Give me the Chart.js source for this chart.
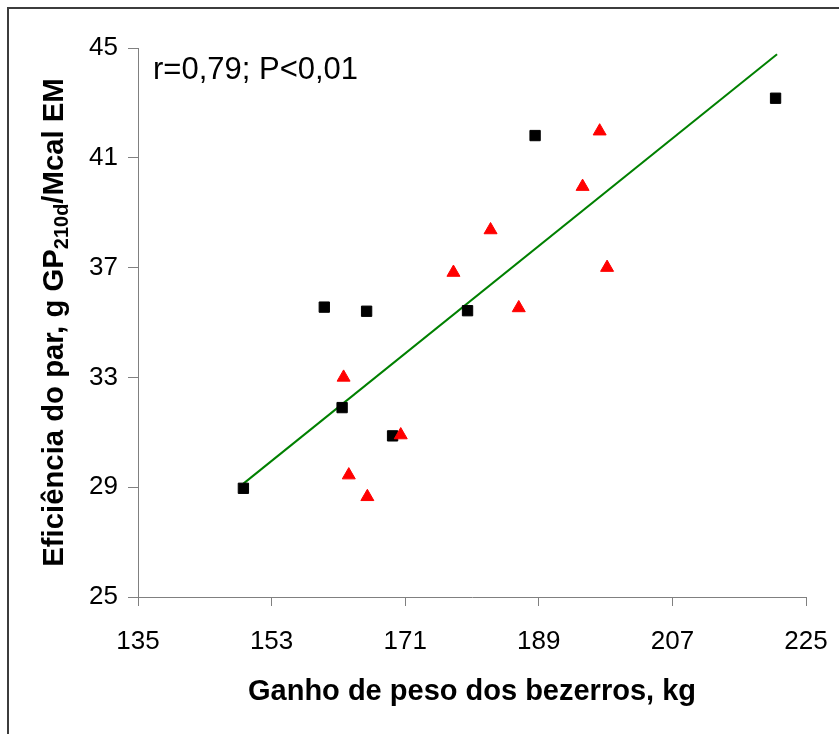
<!DOCTYPE html>
<html>
<head>
<meta charset="utf-8">
<script src="https://cdn.jsdelivr.net/npm/chart.js@4.4.1/dist/chart.umd.min.js"></script>
<style>
  html, body { margin: 0; padding: 0; background: #fff; }
  #wrap { width: 839px; height: 734px; position: relative; }
</style>
</head>
<body>
<div id="wrap"><canvas id="myChart" width="839" height="734"></canvas></div>
<script>
// values
const squaresX = [149.2, 160.1, 162.5, 165.8, 169.3, 179.4, 188.5, 220.9];
const squaresY = [28.96, 35.56, 31.90, 35.41, 30.87, 35.43, 41.81, 43.17];
const trianglesX = [162.7, 163.4, 165.9, 170.4, 177.5, 182.5, 186.3, 194.9, 197.2, 198.2];
const trianglesY = [33.0, 29.44, 28.65, 30.9, 36.82, 38.37, 35.53, 39.95, 41.97, 37.0];
const trendX = [149.2, 221.1];
const trendY = [29.13, 44.77];
const xTicks = [135, 153, 171, 189, 207, 225];
const yTicks = [25, 29, 33, 37, 41, 45];
const annotation = 'r=0,79; P<0,01';

const FONT = '"Liberation Sans", Arial, sans-serif';

function toPoints(xs, ys) {
    return xs.map((x, i) => ({ x: x, y: ys[i] }));
}

// frame, annotation text and y-axis title (needs a subscript)
const decorations = {
    id: 'decorations',
    afterDraw(chart) {
        const ctx = chart.ctx;
        const area = chart.chartArea;
        ctx.save();
        ctx.strokeStyle = '#3c3c3c';
        ctx.lineWidth = 2;
        ctx.beginPath();
        ctx.moveTo(8, chart.height + 2);
        ctx.lineTo(8, 8);
        ctx.lineTo(chart.width + 2, 8);
        ctx.stroke();

        ctx.fillStyle = '#000';
        ctx.font = '31px ' + FONT;
        ctx.textBaseline = 'alphabetic';
        ctx.textAlign = 'left';
        ctx.fillText(annotation, area.left + 15, 79);

        // rotated title
        const parts = [
            { t: 'Eficiência do par, g GP', f: 'bold 29.3px ' + FONT, dy: 0 },
            { t: '210d', f: 'bold 20px ' + FONT, dy: 5 },
            { t: '/Mcal EM', f: 'bold 29.3px ' + FONT, dy: 0 }
        ];
        let total = 0;
        parts.forEach(p => { ctx.font = p.f; p.w = ctx.measureText(p.t).width; total += p.w; });
        ctx.translate(63, (area.top + area.bottom) / 2);
        ctx.rotate(-Math.PI / 2);
        let pos = -total / 2;
        parts.forEach(p => {
            ctx.font = p.f;
            ctx.fillText(p.t, pos, p.dy);
            pos += p.w;
        });
        ctx.restore();
    }
};

const ctx = document.getElementById('myChart').getContext('2d');
new Chart(ctx, {
    type: 'scatter',
    data: {
        datasets: [
            {
                label: 'triangles',
                data: toPoints(trianglesX, trianglesY),
                pointStyle: 'triangle',
                pointRadius: 7.5,
                backgroundColor: '#ff0000',
                borderColor: '#ff0000',
                borderWidth: 1,
                order: 1
            },
            {
                label: 'squares',
                data: toPoints(squaresX, squaresY),
                pointStyle: 'rect',
                pointRadius: 7.3,
                backgroundColor: '#000000',
                borderColor: '#000000',
                borderWidth: 1,
                order: 2
            },
            {
                type: 'line',
                label: 'trend',
                data: toPoints(trendX, trendY),
                borderColor: '#008000',
                borderWidth: 2,
                pointRadius: 0,
                fill: false,
                order: 3
            }
        ]
    },
    options: {
        responsive: false,
        animation: false,
        layout: { padding: { left: 0, top: 48, right: 33, bottom: 0 } },
        plugins: {
            legend: { display: false },
            tooltip: { enabled: false }
        },
        scales: {
            x: {
                type: 'linear',
                min: xTicks[0],
                max: xTicks[xTicks.length - 1],
                afterBuildTicks: (scale) => { scale.ticks = xTicks.map(v => ({ value: v })); },
                afterFit: (scale) => {
                    scale.height = 137;
                    scale.paddingLeft = 0;
                    scale.paddingRight = 0;
                },
                border: { display: true, color: '#808080', width: 1 },
                grid: { display: true, drawOnChartArea: false, drawTicks: true, tickLength: 9, color: '#808080' },
                ticks: { color: '#000', font: { family: FONT, size: 26 }, padding: 20, maxRotation: 0 },
                title: {
                    display: true,
                    text: 'Ganho de peso dos bezerros, kg',
                    color: '#000',
                    font: { family: FONT, size: 29, weight: 'bold' },
                    padding: { top: 0, bottom: 25 }
                }
            },
            y: {
                type: 'linear',
                min: yTicks[0],
                max: yTicks[yTicks.length - 1],
                afterBuildTicks: (scale) => { scale.ticks = yTicks.map(v => ({ value: v })); },
                afterFit: (scale) => {
                    scale.width = 138;
                    scale.paddingTop = 0;
                    scale.paddingBottom = 0;
                },
                border: { display: true, color: '#808080', width: 1 },
                grid: { display: true, drawOnChartArea: false, drawTicks: true, tickLength: 10, color: '#808080' },
                ticks: { color: '#000', font: { family: FONT, size: 26 }, padding: 10 }
            }
        }
    },
    plugins: [decorations]
});
</script>
</body>
</html>
